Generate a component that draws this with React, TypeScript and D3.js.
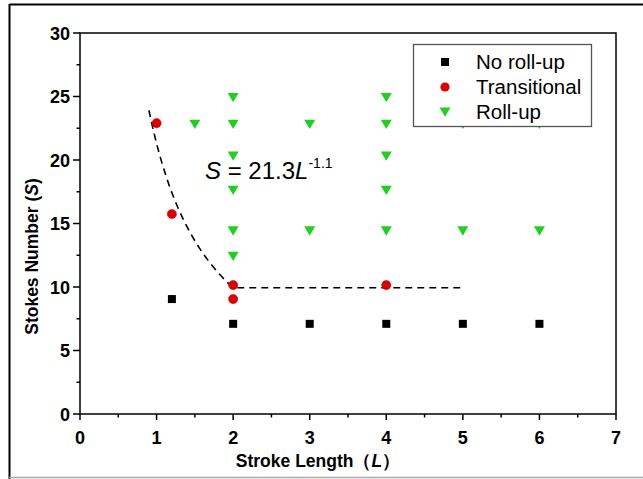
import React from "react";
import * as d3 from "d3";

// Stroke length (L) and Stokes number (S) for each regime
const noRollL = [1.2, 2, 3, 4, 5, 6];
const noRollS = [9.05, 7.1, 7.1, 7.1, 7.1, 7.1];

const transL = [1, 1.2, 2, 2, 4];
const transS = [22.9, 15.75, 10.15, 9.05, 10.15];

const rollL = [1.5, 2, 2, 2, 2, 2, 2, 3, 3, 4, 4, 4, 4, 4, 5, 5, 6, 6];
const rollS = [22.85, 24.95, 22.85, 20.35, 17.65, 14.45, 12.45, 22.85, 14.45, 24.95, 22.85, 20.35, 17.65, 14.45, 22.85, 14.45, 22.85, 14.45];

const xTicks = [0, 1, 2, 3, 4, 5, 6, 7];
const yTicks = [0, 5, 10, 15, 20, 25, 30];
const legendLabels = ["No roll-up", "Transitional", "Roll-up"];

// Boundary fit S = a * L^b, then a flat plateau
const fitA = 21.3;
const fitB = -1.1;
const fitStart = 0.9;
const fitEnd = 2;
const plateauEnd = 5;

const W = 643;
const H = 479;
const left = 80;
const right = 616;
const top = 33;
const bottom = 414;

const font = "Arial, 'Liberation Sans', sans-serif";

export default function App() {
  const x = d3.scaleLinear().domain([0, 7]).range([left, right]);
  const y = d3.scaleLinear().domain([0, 30]).range([bottom, top]);

  const curvePts: [number, number][] = d3
    .range(0, 41)
    .map((i) => fitStart + ((fitEnd - fitStart) * i) / 40)
    .map((L) => [L, fitA * Math.pow(L, fitB)]);
  const plateau = fitA * Math.pow(fitEnd, fitB);
  curvePts.push([plateauEnd, plateau]);
  const line = d3
    .line<[number, number]>()
    .x((d) => x(d[0]))
    .y((d) => y(d[1]));

  const xMinor = d3.range(0.5, 7, 1);
  const yMinor = d3.range(2.5, 30, 5);

  const tri = (cx: number, cy: number, s = 5.5) =>
    `M${cx - s},${cy - s * 0.75}L${cx + s},${cy - s * 0.75}L${cx},${cy + s * 0.95}Z`;

  const green = "#1fd11f";
  const red = "#e00000";

  return (
    <svg
      width={W}
      height={H}
      style={{ position: "absolute", left: 0, top: 0, background: "#fff" }}
      fontFamily={font}
    >
      {/* outer frame */}
      <line x1={9.5} x2={W} y1={4.5} y2={4.5} stroke="#000" strokeWidth={2} />
      <line x1={9.5} x2={9.5} y1={4} y2={H} stroke="#000" strokeWidth={2} />
      <line x1={9} x2={W} y1={477.5} y2={477.5} stroke="#aaa" strokeWidth={1.5} />

      {/* plot box */}
      <rect
        x={left}
        y={top}
        width={right - left}
        height={bottom - top}
        fill="none"
        stroke="#000"
        strokeWidth={1.5}
      />

      {/* x axis ticks */}
      {xTicks.map((t) => (
        <g key={"xt" + t}>
          <line x1={x(t)} x2={x(t)} y1={bottom} y2={bottom + 6} stroke="#000" strokeWidth={1.5} />
          <text x={x(t)} y={bottom + 30} textAnchor="middle" fontSize={18} fontWeight="bold">
            {t}
          </text>
        </g>
      ))}
      {xMinor.map((t) => (
        <line key={"xm" + t} x1={x(t)} x2={x(t)} y1={bottom} y2={bottom + 3.5} stroke="#000" strokeWidth={1.5} />
      ))}

      {/* y axis ticks */}
      {yTicks.map((t) => (
        <g key={"yt" + t}>
          <line x1={left - 7} x2={left} y1={y(t)} y2={y(t)} stroke="#000" strokeWidth={1.5} />
          <text x={left - 10} y={y(t) + 6.5} textAnchor="end" fontSize={18} fontWeight="bold">
            {t}
          </text>
        </g>
      ))}
      {yMinor.map((t) => (
        <line key={"ym" + t} x1={left - 3.5} x2={left} y1={y(t)} y2={y(t)} stroke="#000" strokeWidth={1.5} />
      ))}

      {/* axis titles */}
      <text x={318} y={467} textAnchor="middle" fontSize={17.5} fontWeight="bold">
        Stroke Length（<tspan fontStyle="italic">L</tspan>）
      </text>
      <text
        transform={`translate(38,${(top + bottom) / 2 + 33}) rotate(-90)`}
        textAnchor="middle"
        fontSize={17.5}
        fontWeight="bold"
      >
        Stokes Number (<tspan fontStyle="italic">S</tspan>)
      </text>

      {/* fitted boundary */}
      <path d={line(curvePts) || ""} fill="none" stroke="#000" strokeWidth={1.6} strokeDasharray="7,5" />

      {/* roll-up */}
      {rollL.map((L, i) => (
        <path key={"r" + i} d={tri(x(L), y(rollS[i]))} fill={green} />
      ))}
      {/* no roll-up */}
      {noRollL.map((L, i) => (
        <rect key={"n" + i} x={x(L) - 4} y={y(noRollS[i]) - 4} width={8} height={8} fill="#000" />
      ))}
      {/* transitional */}
      {transL.map((L, i) => (
        <circle key={"t" + i} cx={x(L)} cy={y(transS[i])} r={4.6} fill={red} stroke="#b00000" strokeWidth={0.5} />
      ))}

      {/* fit equation */}
      <text x={205} y={179} fontSize={24}>
        <tspan fontStyle="italic">S</tspan> = 21.3<tspan fontStyle="italic">L</tspan>
        <tspan fontSize={14} dy={-11}>-1.1</tspan>
      </text>

      {/* legend */}
      <g>
        <rect x={413.5} y={44.5} width={178} height={82} fill="#fff" stroke="#555" strokeWidth={1.3} />
        <rect x={441} y={58} width={8} height={8} fill="#000" />
        <circle cx={445} cy={87} r={4.6} fill={red} />
        <path d={tri(445, 111.5)} fill={green} />
        {legendLabels.map((lab, i) => (
          <text key={lab} x={476} y={69 + i * 25} fontSize={20.5}>
            {lab}
          </text>
        ))}
      </g>
    </svg>
  );
}
